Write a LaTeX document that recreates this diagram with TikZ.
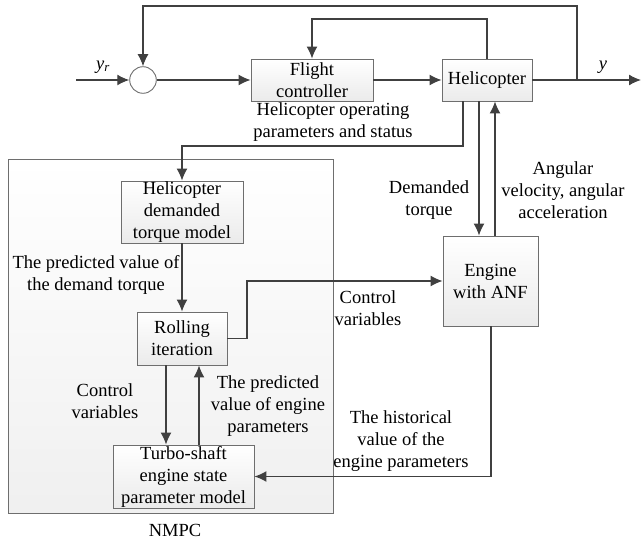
\documentclass[tikz,border=0pt]{standalone}
\usepackage{fontspec}
\setmainfont{Liberation Serif}
\newfontfamily\tnr{Liberation Serif}
\usetikzlibrary{arrows.meta,calc}
\definecolor{lnc}{HTML}{404040}
\definecolor{bdc}{HTML}{6E6E6E}
\begin{document}
\begin{tikzpicture}[x=1pt,y=-1pt,
  every node/.style={font=\tnr\fontsize{18.5}{22}\selectfont, inner sep=0pt, align=center, text=black},
  blk/.style={draw=bdc, line width=0.9pt, top color=white, bottom color=gray!16, minimum width=#1},
  conn/.style={draw=lnc, line width=1.3pt},
  arr/.style={conn, -{Latex[length=12pt,width=11pt]}}
]
\useasboundingbox (0,0) rectangle (641,543);
% NMPC region
\node[draw=bdc, line width=0.9pt, top color=white, bottom color=gray!12, minimum width=325pt, minimum height=354pt] (nmpc) at (170.5,336) {};
\node (nmpclbl) at (175,530) {NMPC};

% blocks
\node[draw=bdc, line width=0.9pt, fill=white, circle, minimum size=26.6pt] (sum) at (143,80) {};
\node[blk=122pt, minimum height=42pt] (fc) at (312,80) {Flight\\controller};
\node[blk=90pt, minimum height=42pt] (heli) at (487,80) {Helicopter};
\node[blk=122pt, minimum height=62pt] (hdtm) at (182,212) {Helicopter\\demanded\\torque model};
\node[blk=90pt, minimum height=53pt] (roll) at (182,338.5) {Rolling\\iteration};
\node[blk=141pt, minimum height=63pt] (turbo) at (183.5,476.5) {Turbo-shaft\\engine state\\parameter model};
\node[blk=95pt, minimum height=90pt] (eng) at (490.5,281) {Engine\\with ANF};

% coordinates
\coordinate (in) at (76,80);
\coordinate (out) at (641,80);
\coordinate (tap) at (577,80);

% main path
\draw[arr] (in) -- (sum.west);
\draw[arr] (sum.east) -- (fc.west);
\draw[arr] (fc.east) -- (heli.west);
\draw[arr] (heli.east) -- (out);
\draw[arr] (tap) -- (577,6) -| (sum.north);
\draw[arr] (heli.north) -- (487,19) -| (fc.north);

% parameters to torque model
\draw[arr] (heli.south -| 463,0) -- (463,146) -| (hdtm.north);
\draw[arr] (hdtm.south) -- (roll.north);
% control variables to engine
\draw[arr] (roll.east) -- (247,338.5) |- (eng.west);
% demanded torque / angular
\draw[arr] (heli.south -| 479,0) -- (eng.north -| 479,0);
\draw[arr] (eng.north -| 495,0) -- (heli.south -| 495,0);
% inner NMPC loop
\draw[arr] (roll.south -| 166,0) -- (turbo.north -| 166,0);
\draw[arr] (turbo.north -| 199,0) -- (roll.south -| 199,0);
% historical
\draw[arr] (eng.south -| 491,0) -- (491,476.5) -- (turbo.east);

% labels
\node (yr) at (103,67) {\itshape y\textsubscript{r}};
\node (yo) at (603,67) {\itshape y};
\node (l1) at (333,122) {Helicopter operating\\parameters and status};
\node (l2) at (96,275) {The predicted value of\\the demand torque};
\node (l3) at (429,200) {Demanded\\torque};
\node (l4) at (563,190) {Angular\\velocity, angular\\acceleration};
\node (l5) at (368,308) {Control\\variables};
\node (l6) at (105,401) {Control\\variables};
\node (l7) at (268,406) {The predicted\\value of engine\\parameters};
\node (l8) at (401,441) {The historical\\value of the\\engine parameters};
\end{tikzpicture}
\end{document}
